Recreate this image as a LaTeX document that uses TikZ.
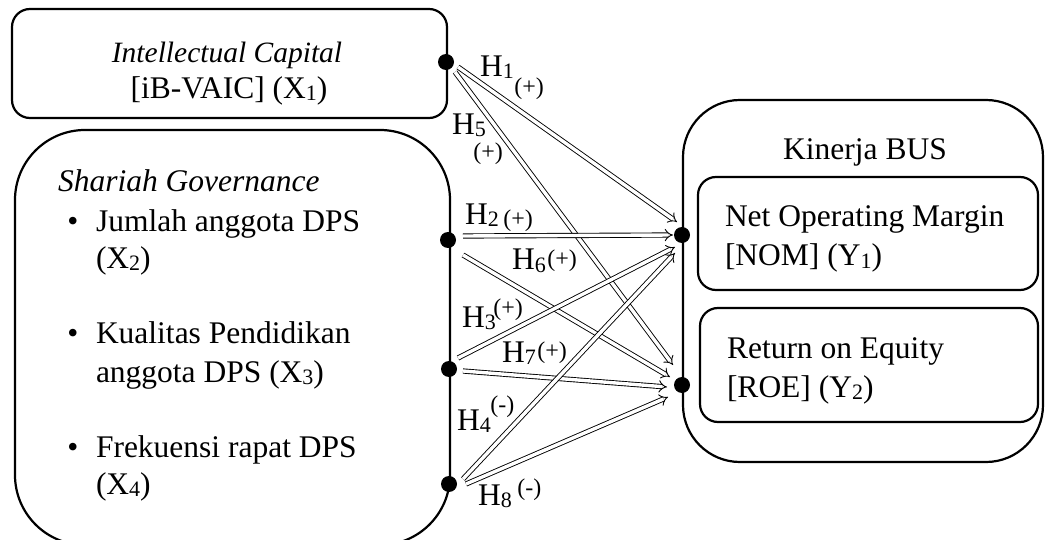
\documentclass[tikz,border=0pt]{standalone}
\usepackage{fontspec}
\setmainfont{Liberation Serif}
\usetikzlibrary{arrows.meta}
% lowered index, set smaller
\newcommand{\lowidx}[1]{\raisebox{-2pt}{\fontsize{22}{22}\selectfont #1}}
% sign of a hypothesis, set smaller and shifted vertically
\newcommand{\hsign}[2]{\raisebox{#1}{\fontsize{24}{24}\selectfont #2}}

\begin{document}
\begin{tikzpicture}[x=1pt,y=-1pt,
  txt/.style={font=\fontsize{31.5}{37}\selectfont, inner sep=0pt, outer sep=0pt},
  frame/.style={draw, line width=2.2pt, inner sep=0pt},
  dot/.style={circle, fill=black, inner sep=0pt, minimum size=16pt},
  link/.style={draw, double=white, double distance=3.4pt, line width=0.9pt, -{Implies[scale=1.3]}},
  hyp/.style={txt, anchor=base west}]
\useasboundingbox (0,0) rectangle (1045,540);

% frames
\node[frame, rounded corners=18pt, minimum width=435pt, minimum height=109pt] (ic) at (229.5,63.5) {};
\node[frame, rounded corners=70pt, minimum width=435pt, minimum height=415pt] (sg) at (232.5,337.5) {};
\node[frame, rounded corners=57pt, minimum width=360pt, minimum height=362pt] (bus) at (863,281) {};
\node[frame, rounded corners=18pt, minimum width=340pt, minimum height=113pt] (nom) at (868,233.5) {};
\node[frame, rounded corners=18pt, minimum width=338pt, minimum height=114pt] (roe) at (869,365) {};

% texts of the independent variables
\node[txt, anchor=base, font=\fontsize{29.5}{35}\selectfont\itshape] (ict1) at (227,63) {Intellectual Capital};
\node[txt, anchor=base] (ict2) at (229,99) {[iB-VAIC] (X\lowidx{1})};

\node[txt, anchor=base west] (sgt) at (58,192) {\itshape Shariah Governance};
\node[txt, anchor=base] (b1) at (73,232) {\textbullet};
\node[txt, anchor=base west] (s1a) at (96,232) {Jumlah anggota DPS};
\node[txt, anchor=base west] (s1b) at (96,269) {(X\lowidx{2})};
\node[txt, anchor=base] (b2) at (73,344) {\textbullet};
\node[txt, anchor=base west] (s2a) at (96,344) {Kualitas Pendidikan};
\node[txt, anchor=base west] (s2b) at (96,382) {anggota DPS (X\lowidx{3})};
\node[txt, anchor=base] (b3) at (73,457) {\textbullet};
\node[txt, anchor=base west] (s3a) at (96,457) {Frekuensi rapat DPS};
\node[txt, anchor=base west] (s3b) at (96,494) {(X\lowidx{4})};

% texts of the dependent variables
\node[txt, anchor=base] (bust) at (865,160) {Kinerja BUS};
\node[txt, anchor=base west] (nom1) at (725,227) {Net Operating Margin};
\node[txt, anchor=base west] (nom2) at (725,266) {[NOM] (Y\lowidx{1})};
\node[txt, anchor=base west] (roe1) at (727,359) {Return on Equity};
\node[txt, anchor=base west] (roe2) at (727,397) {[ROE] (Y\lowidx{2})};

% connection points
\node[dot] (x1) at (446,62) {};
\node[dot] (x2) at (448,240) {};
\node[dot] (x3) at (449,369) {};
\node[dot] (x4) at (449,484) {};
\node[dot] (y1) at (682,235) {};
\node[dot] (y2) at (682,385) {};

% hypothesis links
\draw[link] ([shift={(12,5)}]x1.center) -- ([shift={(-5,-13)}]y1.center);
\draw[link] ([shift={(9,10)}]x1.center) -- ([shift={(-9,-20)}]y2.center);
\draw[link] ([shift={(15,-4)}]x2.center) -- ([shift={(-9,0)}]y1.center);
\draw[link] ([shift={(15,15)}]x2.center) -- ([shift={(-12,-8)}]y2.center);
\draw[link] ([shift={(9,-11)}]x3.center) -- ([shift={(-7,12)}]y1.center);
\draw[link] ([shift={(14,2)}]x3.center) -- ([shift={(-15,2)}]y2.center);
\draw[link] ([shift={(14,-5)}]x4.center) -- ([shift={(-7,18)}]y1.center);
\draw[link] ([shift={(17,0)}]x4.center) -- ([shift={(-14,12)}]y2.center);

% hypothesis labels
\node[hyp] (l1) at (480,77) {H\lowidx{1}\hspace{0.6pt}\hsign{-18pt}{(+)}};
\node[hyp] (l5) at (452,135) {H\lowidx{5}\hspace{-12.4pt}\hsign{-25pt}{(+)}};
\node[hyp] (l2) at (465,225) {H\lowidx{2}\hspace{4.6pt}\hsign{-2pt}{(+)}};
\node[hyp] (l6) at (512,270) {H\lowidx{6}\hspace{1.6pt}\hsign{3pt}{(+)}};
\node[hyp] (l3) at (462,327) {H\lowidx{3}\hspace{-2.4pt}\hsign{12pt}{(+)}};
\node[hyp] (l7) at (502,362) {H\lowidx{7}\hspace{1.6pt}\hsign{4pt}{(+)}};
\node[hyp] (l4) at (457,430) {H\lowidx{4}\hspace{-0.4pt}\hsign{18pt}{(-)}};
\node[hyp] (l8) at (478,505) {H\lowidx{8}\hspace{5.6pt}\hsign{10pt}{(-)}};
\end{tikzpicture}
\end{document}
